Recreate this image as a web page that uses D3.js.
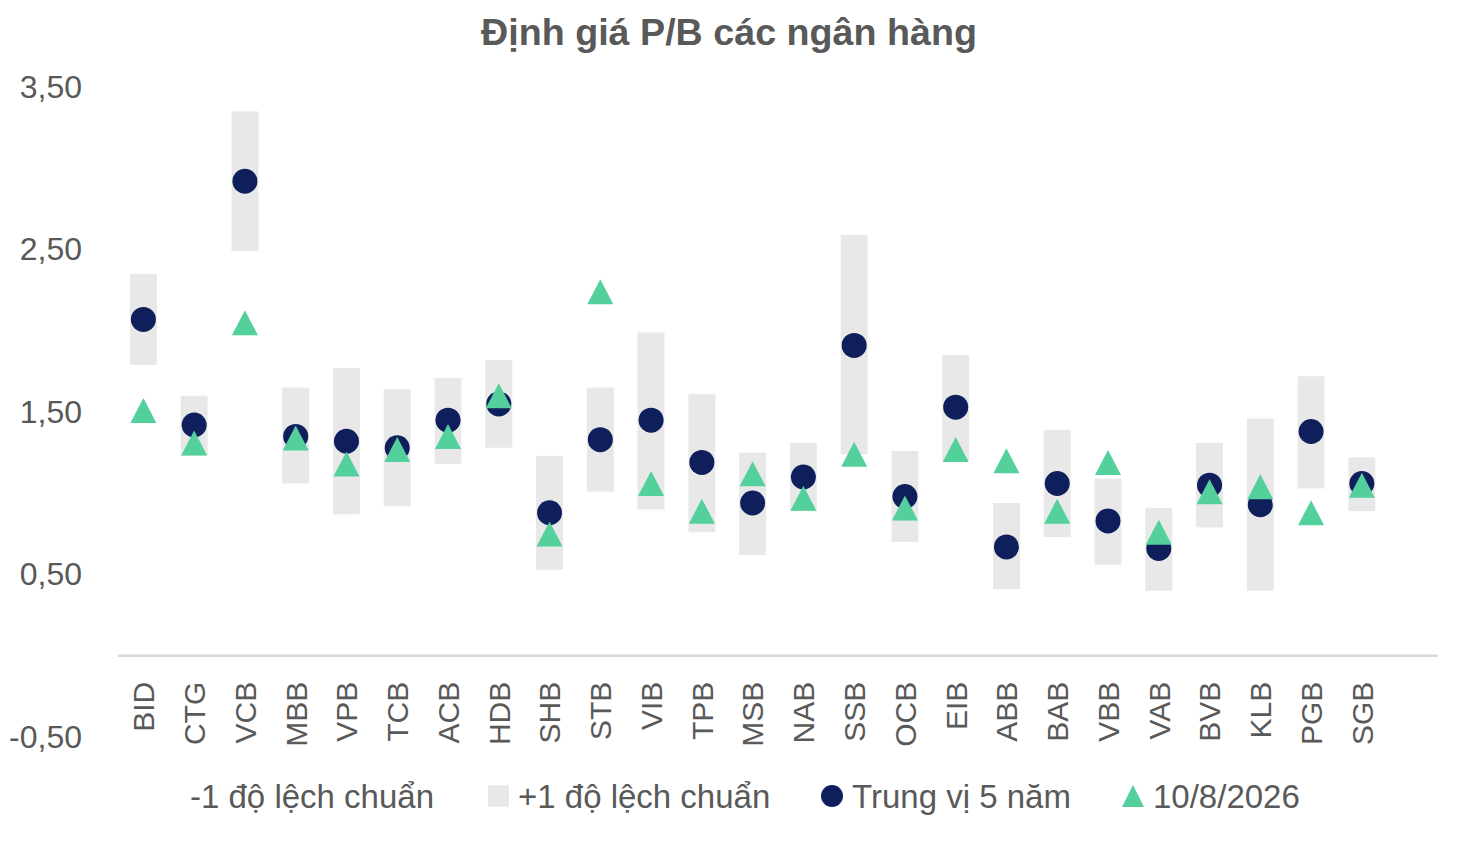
<!DOCTYPE html>
<html>
<head>
<meta charset="utf-8">
<script src="https://cdn.jsdelivr.net/npm/d3@7"></script>
<style>
  body { margin: 0; background: #fff; }
  text { font-family: "Liberation Sans", Arial, sans-serif; fill: #595959; }
</style>
</head>
<body>
<div id="chart"></div>
<script>
// data
const categories = ["BID", "CTG", "VCB", "MBB", "VPB", "TCB", "ACB", "HDB", "SHB", "STB", "VIB", "TPB", "MSB",
                    "NAB", "SSB", "OCB", "EIB", "ABB", "BAB", "VBB", "VAB", "BVB", "KLB", "PGB", "SGB"];
const lowerSD = [1.79, 1.23, 2.49, 1.06, 0.87, 0.92, 1.18, 1.28, 0.53, 1.01, 0.90, 0.76, 0.62,
                 0.89, 1.24, 0.70, 1.20, 0.41, 0.73, 0.56, 0.40, 0.79, 0.40, 1.03, 0.89];
const upperSD = [2.35, 1.60, 3.35, 1.65, 1.77, 1.64, 1.71, 1.82, 1.23, 1.65, 1.99, 1.61, 1.25,
                 1.31, 2.59, 1.26, 1.85, 0.94, 1.39, 1.09, 0.91, 1.31, 1.46, 1.72, 1.22];
const median5y = [2.07, 1.42, 2.92, 1.35, 1.32, 1.28, 1.45, 1.55, 0.88, 1.33, 1.45, 1.19, 0.94,
                  1.10, 1.91, 0.98, 1.53, 0.67, 1.06, 0.83, 0.66, 1.05, 0.93, 1.38, 1.06];
const current = [1.51, 1.31, 2.05, 1.34, 1.18, 1.27, 1.35, 1.60, 0.75, 2.24, 1.06, 0.89, 1.12,
                 0.97, 1.24, 0.91, 1.27, 1.20, 0.89, 1.19, 0.76, 1.01, 1.04, 0.88, 1.05];
const yTicks = [-0.5, 0.5, 1.5, 2.5, 3.5];
const legendLabels = ["-1 độ lệch chuẩn", "+1 độ lệch chuẩn", "Trung vị 5 năm", "10/8/2026"];
const chartTitle = "Định giá P/B các ngân hàng";

const width = 1468;
const height = 841;
const plot = {left: 118, right: 1438, top: 87, bottom: 737};
const colors = {band: "#E8E8E8", median: "#0F1F5C", current: "#53D09B", axis: "#D9D9D9"};

const rows = categories.map(function(c, i) {
    return {cat: c, lo: lowerSD[i], hi: upperSD[i], med: median5y[i], cur: current[i]};
});

let svg = d3.select("#chart")
            .append("svg")
            .attr("width", width)
            .attr("height", height);

// excel leaves one empty slot at the right end of the category axis
const step = (plot.right - plot.left) / (categories.length + 1);
let xScale = d3.scaleBand()
            .domain(categories)
            .range([plot.left, plot.left + step * categories.length])
            .paddingInner(0.47)
            .paddingOuter(0.235);

let yScale = d3.scaleLinear()
            .domain([-0.5, 3.5])
            .range([plot.bottom, plot.top]);

function cx(d) { return xScale(d.cat) + xScale.bandwidth() / 2; }

function triangle(w, h) {
    return "M0," + (-h / 2) + "L" + (w / 2) + "," + (h / 2) + "L" + (-w / 2) + "," + (h / 2) + "Z";
}

// title
svg.append("text")
    .attr("x", 729)
    .attr("y", 45)
    .attr("text-anchor", "middle")
    .attr("textLength", 496)
    .attr("lengthAdjust", "spacingAndGlyphs")
    .style("font-size", "37px")
    .style("font-weight", "bold")
    .text(chartTitle);

// y axis labels (no line, no ticks)
let yAxis = svg.append("g")
    .attr("transform", "translate(" + (plot.left - 36) + ",0)")
    .call(d3.axisLeft(yScale)
        .tickValues(yTicks)
        .tickSize(0)
        .tickFormat(function(d) { return d3.format(".2f")(d).replace(".", ",").replace("\u2212", "-"); }));
yAxis.select(".domain").remove();
yAxis.selectAll("text")
    .attr("x", 0)
    .style("font-size", "32px")
    .style("font-family", "'Liberation Sans', Arial, sans-serif")
    .attr("fill", "#595959");

// zero line
svg.append("line")
    .attr("x1", plot.left)
    .attr("x2", plot.right)
    .attr("y1", yScale(0))
    .attr("y2", yScale(0))
    .style("stroke", colors.axis)
    .style("stroke-width", 2.5);

// +/- 1 sd bands
svg.append("g").selectAll("rect")
    .data(rows)
    .enter()
    .append("rect")
    .attr("x", function(d) { return xScale(d.cat); })
    .attr("width", xScale.bandwidth())
    .attr("y", function(d) { return yScale(d.hi); })
    .attr("height", function(d) { return yScale(d.lo) - yScale(d.hi); })
    .style("fill", colors.band);

// 5 year median
svg.append("g").selectAll("circle")
    .data(rows)
    .enter()
    .append("circle")
    .attr("cx", cx)
    .attr("cy", function(d) { return yScale(d.med); })
    .attr("r", 12.5)
    .style("fill", colors.median);

// current value
svg.append("g").selectAll("path")
    .data(rows)
    .enter()
    .append("path")
    .attr("transform", function(d) { return "translate(" + cx(d) + "," + yScale(d.cur) + ")"; })
    .attr("d", triangle(26, 25))
    .style("fill", colors.current);

// category labels, rotated
svg.append("g").selectAll("text")
    .data(rows)
    .enter()
    .append("text")
    .attr("transform", function(d) { return "translate(" + cx(d) + "," + (yScale(0) + 26) + ") rotate(-90)"; })
    .attr("text-anchor", "end")
    .attr("dy", "0.36em")
    .style("font-size", "30px")
    .text(function(d) { return d.cat; });

// legend
const legendY = 796;
let legend = svg.append("g");
const legendTextX = [190, 518, 852, 1153];

legend.append("rect")
    .attr("x", 488).attr("y", legendY - 10.5)
    .attr("width", 21).attr("height", 21)
    .style("fill", colors.band);
legend.append("circle")
    .attr("cx", 832).attr("cy", legendY)
    .attr("r", 11)
    .style("fill", colors.median);
legend.append("path")
    .attr("transform", "translate(1133," + legendY + ")")
    .attr("d", triangle(22, 22))
    .style("fill", colors.current);

legend.selectAll("text")
    .data(legendLabels)
    .enter()
    .append("text")
    .attr("x", function(d, i) { return legendTextX[i]; })
    .attr("y", legendY)
    .attr("dy", "0.36em")
    .style("font-size", "33px")
    .text(function(d) { return d; });
</script>
</body>
</html>
